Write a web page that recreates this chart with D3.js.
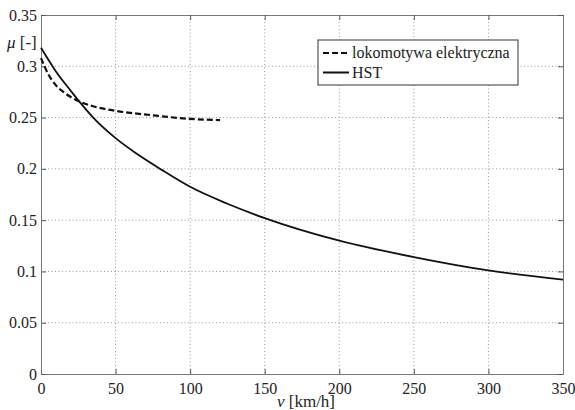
<!DOCTYPE html>
<html lang="pl">
  <head>
    <script src="https://d3js.org/d3.v7.min.js"></script>
    <style>
      body { margin: 0; background: #fff; }
      svg text { font-family: "Liberation Serif", "Times New Roman", Tinos, "Noto Serif", "DejaVu Serif", serif; fill: #222; }
      .grid line { stroke: #999; stroke-width: 1; stroke-dasharray: 1,2.5; }
    </style>
  </head>
  <body>
    <svg width="575" height="410"></svg>
    <script>
      // HST curve (v in km/h, mu)
      var hstV  = [0, 10, 20, 26, 35, 50, 65, 81, 100, 125, 150, 200, 250, 300, 350];
      var hstMu = [0.318, 0.295, 0.276, 0.265, 0.250, 0.230, 0.214, 0.199, 0.1825, 0.166, 0.152, 0.130, 0.114, 0.101, 0.092];
      // electric locomotive curve
      var lokV  = [0, 5, 10, 15, 20, 26, 35, 50, 75, 100, 120];
      var lokMu = [0.308, 0.292, 0.2815, 0.275, 0.270, 0.2655, 0.261, 0.2566, 0.2522, 0.2487, 0.2475];

      var xTicks = [0, 50, 100, 150, 200, 250, 300, 350];
      var yTicks = [0, 0.05, 0.1, 0.15, 0.2, 0.25, 0.3, 0.35];
      var legendLabels = ["lokomotywa elektryczna", "HST"];

      var svg = d3.select("svg");
      var pLeft = 41, pRight = 563, pTop = 15, pBottom = 374;
      var serif = '"Liberation Serif", "Times New Roman", Tinos, "Noto Serif", "DejaVu Serif", serif';

      var x = d3.scaleLinear().domain([0, 350]).range([pLeft, pRight]);
      var y = d3.scaleLinear().domain([0, 0.35]).range([pBottom, pTop]);

      //dotted grid
      var grid = svg.append("g").attr("class", "grid");
      grid.selectAll(".vx").data(xTicks.slice(1, -1)).enter().append("line")
        .attr("x1", d => x(d)).attr("x2", d => x(d))
        .attr("y1", pTop).attr("y2", pBottom);
      grid.selectAll(".hy").data(yTicks.slice(1, -1)).enter().append("line")
        .attr("x1", pLeft).attr("x2", pRight)
        .attr("y1", d => y(d)).attr("y2", d => y(d));

      //axes, ticks pointing inward on all four sides
      function styleAxis(g) {
        g.attr("font-family", serif);
        g.select(".domain").attr("stroke", "#777");
        g.selectAll(".tick line").attr("stroke", "#555");
        g.selectAll(".tick text").style("font-size", "16px").style("font-family", serif).attr("fill", "#222");
      }
      svg.append("g").attr("transform", "translate(0," + pBottom + ")")
        .call(d3.axisBottom(x).tickValues(xTicks).tickSizeInner(-5).tickSizeOuter(0).tickPadding(9).tickFormat(d3.format("d")))
        .call(styleAxis);
      svg.append("g").attr("transform", "translate(0," + pTop + ")")
        .call(d3.axisTop(x).tickValues(xTicks).tickSizeInner(-5).tickSizeOuter(0).tickFormat(""))
        .call(styleAxis);
      svg.append("g").attr("transform", "translate(" + pLeft + ",0)")
        .call(d3.axisLeft(y).tickValues(yTicks).tickSizeInner(-5).tickSizeOuter(0).tickPadding(4).tickFormat(d => d === 0 ? "0" : d3.format("")(d)))
        .call(styleAxis);
      svg.append("g").attr("transform", "translate(" + pRight + ",0)")
        .call(d3.axisRight(y).tickValues(yTicks).tickSizeInner(-5).tickSizeOuter(0).tickFormat(""))
        .call(styleAxis);

      //curves
      var line = d3.line().x(d => x(d[0])).y(d => y(d[1])).curve(d3.curveMonotoneX);
      svg.append("path").datum(d3.zip(hstV, hstMu))
        .attr("d", line).attr("fill", "none").attr("stroke", "#111").attr("stroke-width", 1.8);
      svg.append("path").datum(d3.zip(lokV, lokMu))
        .attr("d", line).attr("fill", "none").attr("stroke", "#111").attr("stroke-width", 2.2)
        .attr("stroke-dasharray", "6,3");

      //axis labels
      var yl = svg.append("text").attr("x", 7).attr("y", 48).style("font-size", "17px");
      yl.append("tspan").style("font-style", "italic").text("\u03BC");
      yl.append("tspan").text(" [-]");
      var xl = svg.append("text").attr("x", 306).attr("y", 407).attr("text-anchor", "middle").style("font-size", "17px");
      xl.append("tspan").style("font-style", "italic").text("v");
      xl.append("tspan").text(" [km/h]");

      //legend
      var lg = svg.append("g");
      lg.append("rect").attr("x", 318).attr("y", 40).attr("width", 200).attr("height", 45)
        .attr("fill", "#fff").attr("stroke", "#333").attr("stroke-width", 1);
      var dash = ["6,3", null];
      legendLabels.forEach(function (lab, i) {
        var yy = 53 + i * 19.5;
        lg.append("line").attr("x1", 323).attr("x2", 349).attr("y1", yy).attr("y2", yy)
          .attr("stroke", "#111").attr("stroke-width", 2).attr("stroke-dasharray", dash[i]);
        lg.append("text").attr("x", 352).attr("y", yy + 5).style("font-size", "16px").text(lab);
      });
    </script>
  </body>
</html>
